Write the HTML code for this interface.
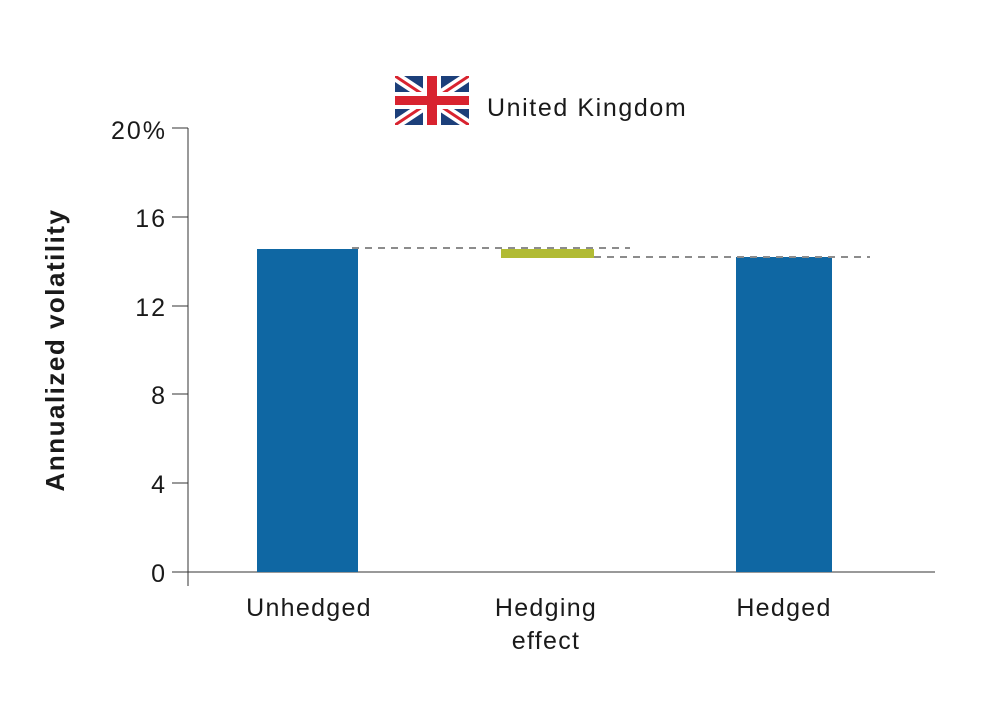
<!DOCTYPE html>
<html><head><meta charset="utf-8"><style>
html,body{margin:0;padding:0;background:#fff}
svg{display:block}
text{font-family:"Liberation Sans",Arial,sans-serif;fill:#1a1a1a}
</style></head><body>
<svg width="998" height="724" viewBox="0 0 998 724" xmlns="http://www.w3.org/2000/svg">
<defs><clipPath id="fc"><rect x="395" y="76" width="74" height="49"/></clipPath></defs>
<g clip-path="url(#fc)">
<rect x="395" y="76" width="74" height="49" fill="#1c3f7a"/>
<path d="M395 76 L469 125 M469 76 L395 125" stroke="#fff" stroke-width="10"/>
<path d="M395 76 L469 125 M469 76 L395 125" stroke="#d8232f" stroke-width="3"/>
<rect x="395" y="92" width="74" height="17" fill="#fff"/>
<rect x="423" y="76" width="18" height="49" fill="#fff"/>
<rect x="395" y="96" width="74" height="9" fill="#d8232f"/>
<rect x="427" y="76" width="10" height="49" fill="#d8232f"/>
</g>
<text x="487" y="116" font-size="25" letter-spacing="1.6">United Kingdom</text>
<g stroke="#333" stroke-width="1">
<line x1="188" y1="128" x2="188" y2="586"/>
<line x1="172" y1="572" x2="935" y2="572"/>
<line x1="172" y1="128" x2="188" y2="128"/>
<line x1="172" y1="217" x2="188" y2="217"/>
<line x1="172" y1="306" x2="188" y2="306"/>
<line x1="172" y1="394" x2="188" y2="394"/>
<line x1="172" y1="483" x2="188" y2="483"/>
</g>
<g font-size="25" text-anchor="end" letter-spacing="2">
<text x="167" y="139">20%</text>
<text x="167" y="227">16</text>
<text x="167" y="316">12</text>
<text x="167" y="404">8</text>
<text x="167" y="493">4</text>
<text x="167" y="582">0</text>
</g>
<text transform="translate(64 350) rotate(-90)" font-size="26" font-weight="bold" letter-spacing="1.5" text-anchor="middle">Annualized volatility</text>
<rect x="257" y="249" width="101" height="323" fill="#0f67a3"/>
<rect x="736" y="257" width="96" height="315" fill="#0f67a3"/>
<rect x="501" y="249" width="93" height="9" fill="#b1bb34"/>
<line x1="352" y1="248" x2="630" y2="248" stroke="#8c8c8c" stroke-width="2" stroke-dasharray="7 6"/>
<line x1="594" y1="257" x2="870" y2="257" stroke="#8c8c8c" stroke-width="2" stroke-dasharray="7 6"/>
<g font-size="25" text-anchor="middle" letter-spacing="1.3">
<text x="309" y="616">Unhedged</text>
<text x="546" y="616">Hedging</text>
<text x="546" y="649">effect</text>
<text x="784" y="616">Hedged</text>
</g>
</svg>
</body></html>
